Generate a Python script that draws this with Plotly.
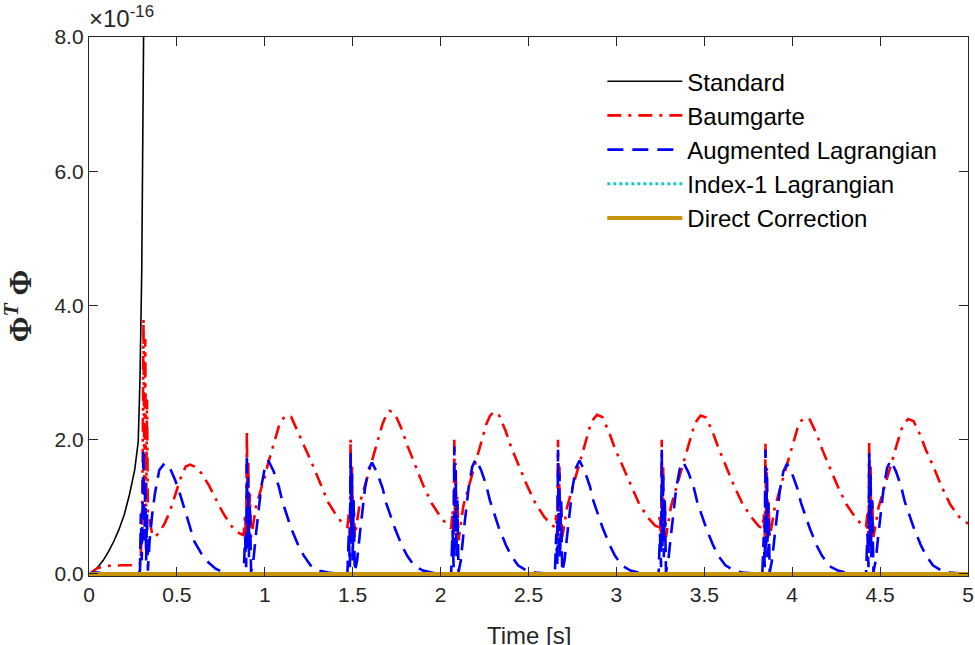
import plotly.graph_objects as go

# ---------------- data (values in units of 1e-16) ----------------
t_standard = [0, 0.02, 0.05, 0.08, 0.11, 0.14, 0.17, 0.20, 0.23, 0.26, 0.28, 0.29, 0.30, 0.31, 0.315]
y_standard = [0, 0.03, 0.10, 0.20, 0.33, 0.48, 0.66, 0.88, 1.18, 1.55, 1.97, 2.9, 4.5, 7.0, 9.5]

t_osc = [
    0, 0.02, 0.05, 0.10, 0.15, 0.20, 0.25, 0.28, 0.29, 0.295, 0.30, 0.305, 0.31, 0.315, 0.32, 0.325,
    0.33, 0.335, 0.345, 0.36, 0.375, 0.40, 0.43, 0.46, 0.49, 0.52, 0.55, 0.575, 0.60, 0.64, 0.68,
    0.72, 0.76, 0.80, 0.83,
    0.86, 0.88, 0.888, 0.894, 0.898, 0.902, 0.906, 0.91, 0.915, 0.922, 0.935, 0.95, 0.98, 1.00, 1.02,
    1.05, 1.08, 1.10, 1.12, 1.15, 1.19, 1.22, 1.26, 1.31, 1.36, 1.41,
    1.45, 1.47, 1.478, 1.484, 1.488, 1.492, 1.496, 1.50, 1.505, 1.512, 1.525, 1.54, 1.57, 1.59, 1.61,
    1.64, 1.67, 1.69, 1.71, 1.74, 1.78, 1.81, 1.85, 1.90, 1.95, 2.00,
    2.04, 2.06, 2.068, 2.074, 2.078, 2.082, 2.086, 2.09, 2.095, 2.102, 2.115, 2.13, 2.16, 2.18, 2.20,
    2.23, 2.26, 2.28, 2.30, 2.33, 2.37, 2.40, 2.44, 2.49, 2.54, 2.59,
    2.63, 2.65, 2.658, 2.664, 2.668, 2.672, 2.676, 2.68, 2.685, 2.692, 2.705, 2.72, 2.75, 2.77, 2.79,
    2.82, 2.85, 2.87, 2.89, 2.92, 2.96, 2.99, 3.03, 3.08, 3.13, 3.18,
    3.22, 3.24, 3.248, 3.254, 3.258, 3.262, 3.266, 3.27, 3.275, 3.282, 3.295, 3.31, 3.34, 3.36, 3.38,
    3.41, 3.44, 3.46, 3.48, 3.51, 3.55, 3.58, 3.62, 3.67, 3.72, 3.77,
    3.81, 3.83, 3.838, 3.844, 3.848, 3.852, 3.856, 3.86, 3.865, 3.872, 3.885, 3.90, 3.93, 3.95, 3.97,
    4.00, 4.03, 4.05, 4.07, 4.10, 4.14, 4.17, 4.21, 4.26, 4.31, 4.36,
    4.40, 4.42, 4.428, 4.434, 4.438, 4.442, 4.446, 4.45, 4.455, 4.462, 4.475, 4.49, 4.52, 4.54, 4.56,
    4.59, 4.62, 4.64, 4.66, 4.69, 4.73, 4.76, 4.80, 4.85, 4.90, 4.95,
    5.00,
]

y_baumgarte = [
    0, 0.04, 0.09, 0.12, 0.13, 0.13, 0.13, 0.14, 0.14, 0.3, 0.6, 1.5, 3.8, 1.2, 3.5, 1.0,
    2.6, 0.9, 0.8, 0.58, 0.55, 0.62, 0.75, 0.93, 1.18, 1.42, 1.6, 1.63, 1.6, 1.5, 1.33,
    1.12, 0.92, 0.75, 0.65,
    0.6, 0.58, 0.9, 0.45, 2.15, 0.7, 1.7, 0.65, 1.2, 0.55, 0.75, 1.0, 1.28, 1.45, 1.66,
    1.93, 2.2, 2.3, 2.36, 2.34, 2.12, 1.93, 1.7, 1.38, 1.07, 0.86,
    0.73, 0.7, 0.9, 0.5, 2.02, 0.72, 1.6, 0.68, 1.1, 0.55, 0.78, 1.05, 1.32, 1.5, 1.7,
    1.97, 2.24, 2.36, 2.43, 2.39, 2.15, 1.92, 1.66, 1.33, 1.05, 0.85,
    0.72, 0.68, 0.95, 0.45, 2.0, 0.75, 1.65, 0.7, 1.15, 0.5, 0.75, 1.02, 1.3, 1.48, 1.68,
    1.96, 2.23, 2.35, 2.41, 2.38, 2.13, 1.9, 1.65, 1.33, 1.05, 0.85,
    0.73, 0.7, 0.88, 0.5, 2.0, 0.7, 1.6, 0.68, 1.1, 0.55, 0.75, 1.0, 1.28, 1.46, 1.66,
    1.93, 2.2, 2.31, 2.37, 2.34, 2.1, 1.88, 1.64, 1.32, 1.04, 0.84,
    0.72, 0.7, 0.9, 0.45, 2.0, 0.72, 1.62, 0.68, 1.12, 0.55, 0.75, 1.0, 1.28, 1.46, 1.65,
    1.92, 2.19, 2.3, 2.36, 2.33, 2.1, 1.88, 1.63, 1.31, 1.03, 0.84,
    0.71, 0.68, 0.9, 0.5, 1.95, 0.7, 1.6, 0.66, 1.1, 0.55, 0.74, 0.98, 1.26, 1.44, 1.63,
    1.9, 2.17, 2.28, 2.33, 2.3, 2.08, 1.86, 1.62, 1.3, 1.03, 0.84,
    0.72, 0.7, 0.9, 0.5, 1.95, 0.72, 1.6, 0.68, 1.1, 0.55, 0.74, 0.98, 1.25, 1.43, 1.62,
    1.88, 2.15, 2.25, 2.31, 2.28, 2.06, 1.85, 1.62, 1.3, 1.03, 0.85,
    0.75,
]

y_augmented = [
    0, 0.02, 0.02, 0.0, 0.0, 0.0, 0.0, 0.0, 0.05, 0.9, 0.2, 1.3, 1.87, 0.5, 1.4, 0.2,
    0.9, 0.05, 0.5, 0.9, 1.2, 1.55, 1.65, 1.58, 1.4, 1.17, 0.9, 0.7, 0.48, 0.3, 0.17,
    0.08, 0.03, 0.01, 0.0,
    0.0, 0.01, 0.55, 0.1, 1.8, 0.4, 1.45, 0.25, 1.05, 0.03, 0.2, 0.6, 1.3, 1.58, 1.69,
    1.53, 1.3, 1.08, 0.92, 0.68, 0.43, 0.28, 0.13, 0.05, 0.02, 0.01,
    0.0, 0.01, 0.6, 0.1, 1.8, 0.45, 1.5, 0.2, 1.1, 0.03, 0.2, 0.58, 1.28, 1.56, 1.66,
    1.5, 1.28, 1.06, 0.9, 0.68, 0.42, 0.27, 0.12, 0.05, 0.02, 0.01,
    0.0, 0.01, 0.65, 0.1, 1.9, 0.4, 1.55, 0.25, 1.1, 0.03, 0.2, 0.6, 1.3, 1.6, 1.71,
    1.55, 1.32, 1.1, 0.94, 0.7, 0.44, 0.28, 0.13, 0.05, 0.02, 0.01,
    0.0, 0.01, 0.6, 0.1, 1.85, 0.4, 1.5, 0.25, 1.1, 0.03, 0.2, 0.58, 1.28, 1.58, 1.69,
    1.53, 1.3, 1.08, 0.93, 0.7, 0.44, 0.28, 0.13, 0.05, 0.02, 0.01,
    0.0, 0.01, 0.6, 0.1, 1.85, 0.4, 1.5, 0.25, 1.1, 0.03, 0.2, 0.57, 1.27, 1.56, 1.67,
    1.51, 1.29, 1.07, 0.92, 0.69, 0.43, 0.27, 0.13, 0.05, 0.02, 0.01,
    0.0, 0.01, 0.55, 0.1, 1.85, 0.4, 1.45, 0.25, 1.05, 0.03, 0.2, 0.56, 1.25, 1.53, 1.64,
    1.49, 1.27, 1.06, 0.91, 0.68, 0.42, 0.27, 0.12, 0.05, 0.02, 0.01,
    0.0, 0.01, 0.6, 0.1, 1.8, 0.4, 1.5, 0.25, 1.1, 0.03, 0.2, 0.58, 1.28, 1.58, 1.69,
    1.53, 1.3, 1.08, 0.93, 0.7, 0.44, 0.28, 0.13, 0.05, 0.02, 0.01,
    0.0,
]

t_flat = [0, 5]
y_index1 = [0, 0]
y_direct = [0, 0]

x_ticks = [0, 0.5, 1, 1.5, 2, 2.5, 3, 3.5, 4, 4.5, 5]
x_ticklabels = ["0", "0.5", "1", "1.5", "2", "2.5", "3", "3.5", "4", "4.5", "5"]
y_ticks = [0, 2, 4, 6, 8]
y_ticklabels = ["0.0", "2.0", "4.0", "6.0", "8.0"]

# ---------------- figure ----------------
FONT = "Liberation Sans, Arial, sans-serif"
AX = "#262626"

fig = go.Figure()
fig.add_trace(go.Scatter(x=t_standard, y=y_standard, mode="lines", name="Standard",
                         line=dict(color="black", width=1.6)))
fig.add_trace(go.Scatter(x=t_osc, y=y_baumgarte, mode="lines", name="Baumgarte",
                         line=dict(color="#FF0000", width=2.6, dash="14px,7px,3px,7px")))
fig.add_trace(go.Scatter(x=t_osc, y=y_augmented, mode="lines", name="Augmented Lagrangian",
                         line=dict(color="#0000FF", width=2.6, dash="16px,9px")))
fig.add_trace(go.Scatter(x=t_flat, y=y_index1, mode="lines", name="Index-1 Lagrangian",
                         line=dict(color="#17C9C9", width=3, dash="3px,3px")))
fig.add_trace(go.Scatter(x=t_flat, y=y_direct, mode="lines", name="Direct Correction",
                         line=dict(color="#C8940A", width=3.8)))

axis_common = dict(showline=True, linecolor=AX, linewidth=1.3, mirror="ticks",
                   ticks="inside", ticklen=9, tickwidth=1.3, tickcolor=AX,
                   showgrid=False, zeroline=False, automargin=False,
                   tickfont=dict(family=FONT, size=21, color=AX))

fig.update_xaxes(range=[0, 5], tickvals=x_ticks, ticktext=x_ticklabels, **axis_common)
fig.update_yaxes(range=[-0.03, 8], tickvals=y_ticks, ticktext=y_ticklabels, **axis_common)

fig.update_layout(
    width=975, height=645,
    margin=dict(l=89, r=7, t=37, b=69, autoexpand=False),
    plot_bgcolor="white", paper_bgcolor="white",
    showlegend=True,
    legend=dict(x=0.584, y=0.959, xanchor="left", yanchor="top",
                bgcolor="rgba(255,255,255,0)", borderwidth=0,
                font=dict(family=FONT, size=24, color="black"),
                itemwidth=75, tracegroupgap=0),
    annotations=[
        dict(text="×10<sup>-16</sup>", xref="paper", yref="paper", x=0, y=1,
             xanchor="left", yanchor="bottom", xshift=-2, yshift=3, showarrow=False,
             font=dict(family=FONT, size=24, color=AX)),
        dict(text="<b>Φ<sup><i>T</i></sup> Φ</b>", xref="paper", yref="paper",
             x=-0.08, y=0.5, xanchor="center", yanchor="middle", textangle=-90,
             showarrow=False, font=dict(family="Liberation Serif, DejaVu Serif, serif", size=31, color=AX)),
        dict(text="Time [s]", xref="paper", yref="paper", x=0.5, y=-0.11,
             xanchor="center", yanchor="middle", showarrow=False,
             font=dict(family=FONT, size=24, color=AX)),
    ],
)

fig.write_html("out.html")
